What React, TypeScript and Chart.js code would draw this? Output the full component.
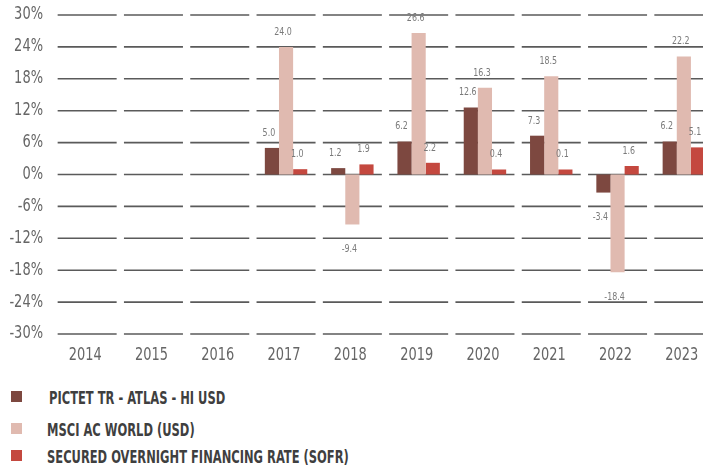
import React, { useEffect, useRef } from "react";
import { Chart, registerables } from "chart.js";

Chart.register(...registerables);

const years = ["2014", "2015", "2016", "2017", "2018", "2019", "2020", "2021", "2022", "2023"];
const pictet = [null, null, null, 5.0, 1.2, 6.2, 12.6, 7.3, -3.4, 6.2];
const msci = [null, null, null, 24.0, -9.4, 26.6, 16.3, 18.5, -18.4, 22.2];
const sofr = [null, null, null, 1.0, 1.9, 2.2, 0.4, 0.1, 1.6, 5.1];
const seriesNames = [
  "PICTET TR - ATLAS - HI USD",
  "MSCI AC WORLD (USD)",
  "SECURED OVERNIGHT FINANCING RATE (SOFR)",
];
const seriesColors = ["#7D4840", "#E0BAB0", "#C4483F"];

const FONT = "'DejaVu Sans Condensed', 'Liberation Sans Narrow', sans-serif";

function scaledText(ctx: any, text: string, x: number, y: number, sx: number, align: string) {
  ctx.save();
  ctx.translate(x, y);
  ctx.scale(sx, 1);
  ctx.textAlign = align;
  ctx.fillText(text, 0, 0);
  ctx.restore();
}

const segmentGrid = {
  id: "segmentGrid",
  beforeDatasetsDraw(chart: any) {
    const { ctx, scales } = chart;
    const xs = scales.x;
    const ys = scales.y;
    const n = xs.getLabels().length;
    const cw = xs.width / n;
    const half = (cw * 0.89) / 2;
    ctx.save();
    ctx.strokeStyle = "#5a5a5a";
    ctx.lineWidth = 1.6;
    ys.ticks.forEach((t: any) => {
      const y = ys.getPixelForValue(t.value);
      for (let i = 0; i < n; i++) {
        const cx = xs.getPixelForValue(i);
        ctx.beginPath();
        ctx.moveTo(cx - half, y);
        ctx.lineTo(cx + half, y);
        ctx.stroke();
      }
    });
    ctx.restore();
  },
};

const axisText = {
  id: "axisText",
  afterDraw(chart: any) {
    const { ctx, scales, chartArea } = chart;
    const xs = scales.x;
    const ys = scales.y;
    ctx.save();
    ctx.fillStyle = "#666";
    ctx.textBaseline = "middle";
    ctx.font = "17px " + FONT;
    ys.ticks.forEach((t: any) => {
      scaledText(ctx, t.value + "%", chartArea.left - 11, ys.getPixelForValue(t.value), 0.85, "right");
    });
    ctx.font = "18px " + FONT;
    xs.getLabels().forEach((lab: string, i: number) => {
      scaledText(ctx, lab, xs.getPixelForValue(i) - 2, chartArea.bottom + 21, 0.8, "center");
    });
    ctx.restore();
  },
};

const valueLabels = {
  id: "valueLabels",
  afterDatasetsDraw(chart: any) {
    const { ctx } = chart;
    ctx.save();
    ctx.font = "11px " + FONT;
    ctx.fillStyle = "#7a7a7a";
    ctx.textBaseline = "middle";
    chart.data.datasets.forEach((ds: any, di: number) => {
      const meta = chart.getDatasetMeta(di);
      meta.data.forEach((el: any, i: number) => {
        const v = ds.data[i];
        if (v === null || v === undefined) return;
        const y = v >= 0 ? el.y - 15 : el.y + 25;
        scaledText(ctx, v.toFixed(1), el.x - 3, y, 0.8, "center");
      });
    });
    ctx.restore();
  },
};

export default function App() {
  const ref = useRef<HTMLCanvasElement>(null);
  useEffect(() => {
    if (!ref.current) return;
    const chart = new Chart(ref.current, {
      type: "bar",
      data: {
        labels: years,
        datasets: [
          { label: seriesNames[0], data: pictet, backgroundColor: seriesColors[0], minBarLength: 5 },
          { label: seriesNames[1], data: msci, backgroundColor: seriesColors[1], minBarLength: 5 },
          { label: seriesNames[2], data: sofr, backgroundColor: seriesColors[2], minBarLength: 5 },
        ],
      },
      options: {
        responsive: false,
        animation: false,
        layout: { padding: { top: 15, left: 0, right: 0, bottom: 0 } },
        datasets: { bar: { categoryPercentage: 0.64, barPercentage: 1.0 } },
        plugins: { legend: { display: false }, tooltip: { enabled: false } },
        scales: {
          x: {
            grid: { display: false, drawTicks: false },
            border: { display: false },
            ticks: { display: false },
            afterFit: (s: any) => {
              s.height = 36;
            },
          },
          y: {
            min: -30,
            max: 30,
            grid: { display: false, drawTicks: false },
            border: { display: false },
            ticks: { display: false, stepSize: 6 },
            afterFit: (s: any) => {
              s.width = 54;
            },
          },
        },
      },
      plugins: [segmentGrid, valueLabels, axisText],
    });
    return () => chart.destroy();
  }, []);

  const legendTops = [388, 420, 447];
  return (
    <div style={{ position: "absolute", left: 0, top: 0, width: 703, height: 468, overflow: "hidden", background: "#fff" }}>
      <canvas ref={ref} width={717} height={370} style={{ position: "absolute", left: 0, top: 0, width: 717, height: 370 }} />
      {seriesNames.map((name, i) => (
        <div key={name} style={{ position: "absolute", left: 0, top: legendTops[i], height: 20 }}>
          <div style={{ position: "absolute", left: 11, top: 3, width: 11, height: 11, background: seriesColors[i] }} />
          <div
            style={{
              position: "absolute",
              left: i === 0 ? 49 : 47,
              top: 0,
              whiteSpace: "nowrap",
              fontFamily: FONT,
              fontWeight: "bold",
              fontSize: 18,
              lineHeight: "20px",
              color: "#3f3f3f",
              transform: "scaleX(0.71)",
              transformOrigin: "left center",
            }}
          >
            {name}
          </div>
        </div>
      ))}
    </div>
  );
}
